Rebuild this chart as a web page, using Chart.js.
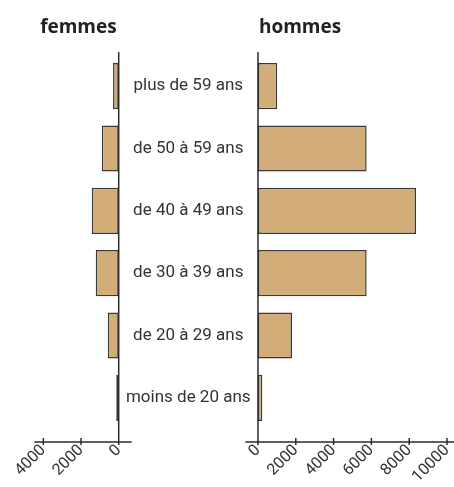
<!DOCTYPE html>
<html><head><meta charset="utf-8">
<script src="https://cdn.jsdelivr.net/npm/chart.js@4.4.0/dist/chart.umd.min.js"></script>
<style>
html,body{margin:0;padding:0;background:#fff;}
#wrap{position:relative;width:454px;height:487px;}
#wrap canvas{position:absolute;left:0;top:0;}
</style></head><body>
<div id="wrap"><canvas id="cF" width="454" height="487"></canvas><canvas id="cH" width="454" height="487"></canvas></div>
<script>
// tranches d'âge, de haut en bas
const AGES=['plus de 59 ans','de 50 à 59 ans','de 40 à 49 ans','de 30 à 39 ans','de 20 à 29 ans','moins de 20 ans'];
const FEMMES=[300,900,1430,1220,580,130];
const HOMMES=[1020,5750,8360,5750,1800,230];
const TICKS_F=[4000,2000,0];
const TICKS_H=[0,2000,4000,6000,8000,10000];

const INK='#2b2b2b', FILL='#d2ac79', EDGE='#3a3a3a';
const TICK_FONT={family:'Roboto',size:16};

// axes dessinés à la main : ligne du zéro, axe du bas qui déborde, petites graduations
function axes(title,side,withLabels){return {id:'axes_'+side,afterDraw(ch){
  const {ctx,chartArea:a,scales:{x,y}}=ch;
  const z=x.getPixelForValue(0), yb=a.bottom+13;
  ctx.save(); ctx.strokeStyle=INK; ctx.lineWidth=1.5;
  ctx.beginPath();
  ctx.moveTo(z,a.top-3); ctx.lineTo(z,yb);
  ctx.moveTo(a.left,yb); ctx.lineTo(a.right,yb);
  x.ticks.forEach(t=>{const p=x.getPixelForValue(t.value);ctx.moveTo(p,yb-4);ctx.lineTo(p,yb+3);});
  ctx.stroke();
  ctx.font='bold 19px "Open Sans"'; ctx.fillStyle='#222';
  ctx.textAlign=side; ctx.textBaseline='alphabetic';
  ctx.fillText(title, z+(side==='left'?1:-2), 33);
  if(withLabels){
    // libellés centrés entre les deux pyramides (zéro femmes ≈ z-139)
    ctx.font='17px Roboto'; ctx.fillStyle='#333';
    ctx.textAlign='center'; ctx.textBaseline='middle';
    AGES.forEach((s,i)=>ctx.fillText(s, z-69.7, y.getPixelForValue(i)));
  }
  ctx.restore();
}};}

function ds(data){return [{data,backgroundColor:FILL,borderColor:EDGE,borderWidth:1.5,borderSkipped:false,
  categoryPercentage:1,barPercentage:0.74}];}

function xScale(min,max,ticks,rev){return {type:'linear',min,max,reverse:rev,
  afterBuildTicks:s=>{s.ticks=ticks.map(v=>({value:v}));},
  afterFit:s=>{s.height=58;s.paddingLeft=0;s.paddingRight=0;},
  grid:{display:false,drawTicks:false},border:{display:false},
  ticks:{font:TICK_FONT,color:'#333',minRotation:45,maxRotation:45,padding:12,autoSkip:false,
    callback:v=>String(v)}};}

const base={responsive:false,animation:false,indexAxis:'y',
  plugins:{legend:{display:false},tooltip:{enabled:false},title:{display:false}}};

new Chart(document.getElementById('cF'),{type:'bar',
  data:{labels:AGES,datasets:ds(FEMMES)},
  options:{...base,layout:{padding:{left:34.3,right:322.3,top:55,bottom:0}},
    scales:{x:xScale(-690,4480,TICKS_F,true),y:{display:false}}},
  plugins:[axes('femmes','right',false)]});

new Chart(document.getElementById('cH'),{type:'bar',
  data:{labels:AGES,datasets:ds(HOMMES)},
  options:{...base,layout:{padding:{left:245.3,right:0,top:55,bottom:0}},
    scales:{x:xScale(-670,10370,TICKS_H,false),y:{display:false}}},
  plugins:[axes('hommes','left',true)]});
</script>
</body></html>
